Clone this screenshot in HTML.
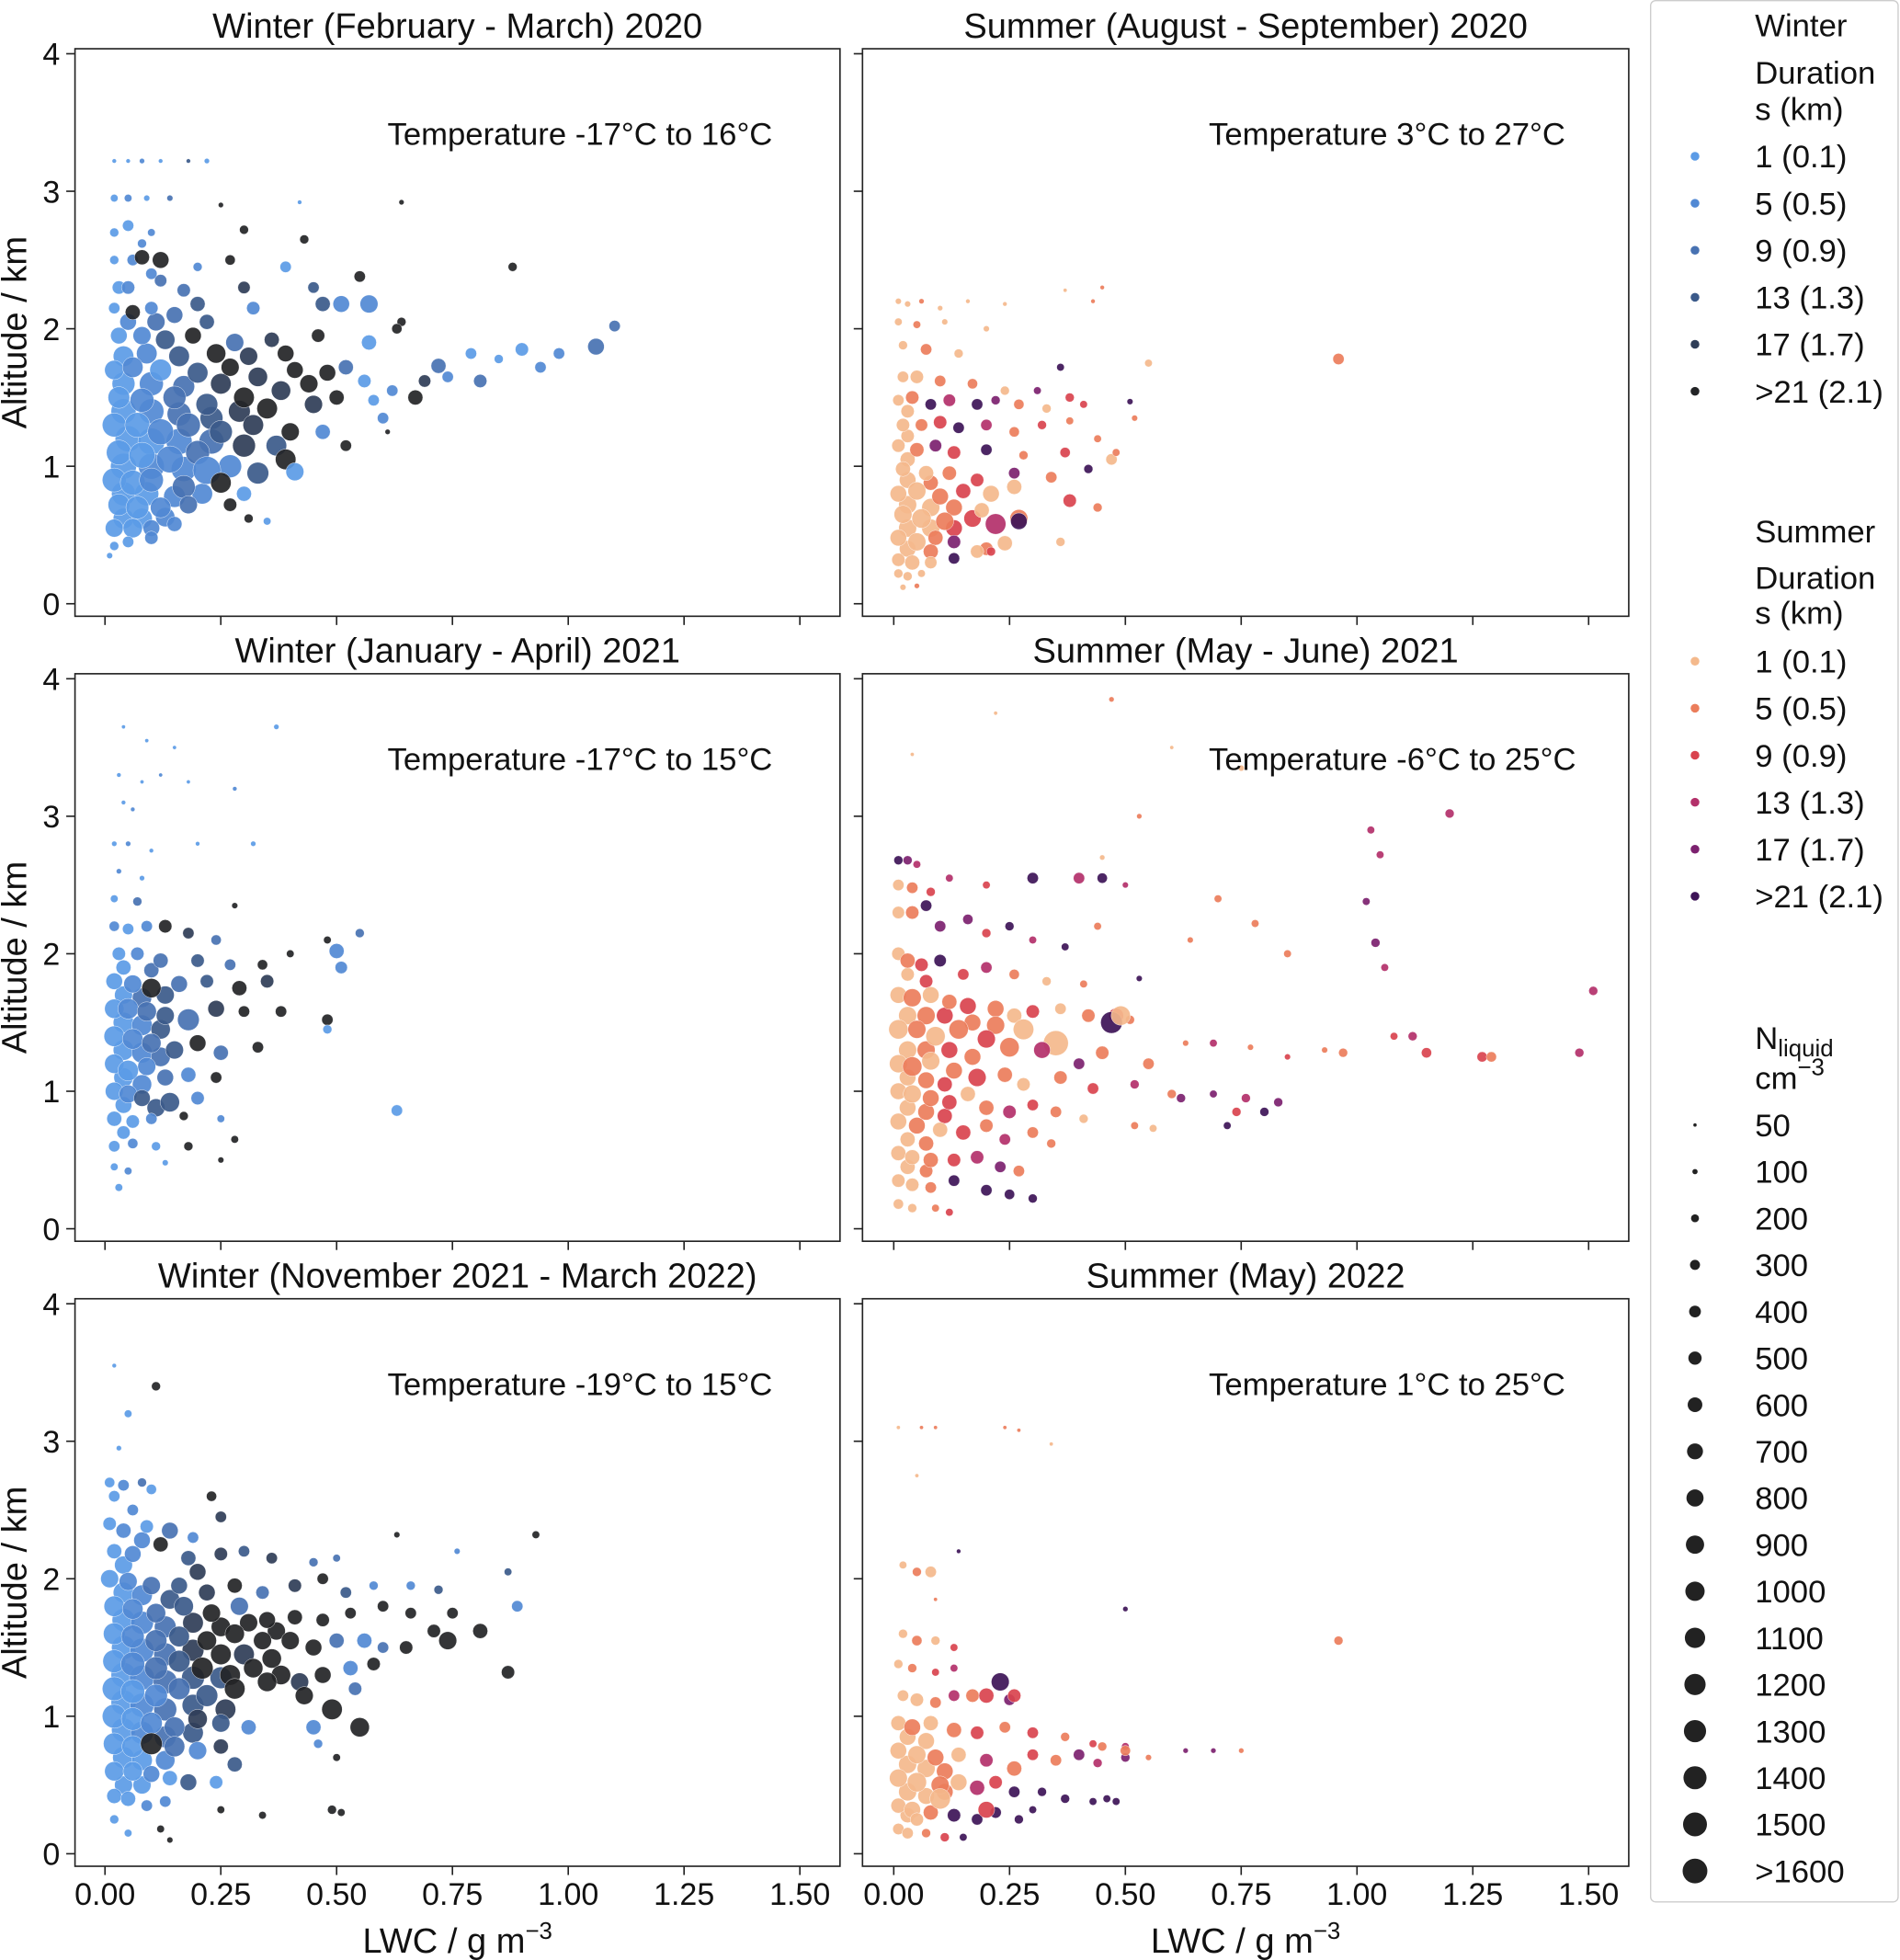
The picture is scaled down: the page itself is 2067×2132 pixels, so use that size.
<!DOCTYPE html>
<html><head><meta charset="utf-8">
<style>
html,body{margin:0;padding:0;background:#fff;}
svg{display:block;font-family:"Liberation Sans",Arial,sans-serif;}
</style></head>
<body>
<svg id="fig" width="2067" height="2132" viewBox="0 0 1520 1568" preserveAspectRatio="none" xmlns="http://www.w3.org/2000/svg"></svg>
<script>
// ---- data: [LWC g/m3, altitude km, N_liquid cm-3, duration class index] ----
const winter2020 = [[0.02,3.22,60,0],[0.05,3.22,60,0],[0.08,3.22,80,1],[0.12,3.22,60,0],[0.18,3.22,60,3],[0.22,3.22,80,0],
[0.02,2.95,150,0],[0.05,2.95,150,1],[0.09,2.95,100,0],[0.14,2.95,100,2],[0.25,2.9,80,5],[0.42,2.92,60,0],[0.64,2.92,80,5],
[0.05,2.75,300,0],[0.1,2.7,150,1],[0.3,2.72,200,5],[0.43,2.65,200,5],
[0.02,2.5,200,0],[0.06,2.5,300,1],[0.08,2.52,500,5],[0.12,2.5,600,5],[0.2,2.45,200,1],[0.27,2.5,250,5],[0.39,2.45,300,0],[0.88,2.45,200,5],
[0.05,2.3,400,1],[0.12,2.35,350,2],[0.17,2.28,400,2],[0.3,2.3,350,4],[0.45,2.3,300,3],[0.55,2.38,300,5],
[0.02,2.15,300,0],[0.06,2.12,500,5],[0.1,2.15,400,1],[0.15,2.1,600,2],[0.2,2.18,500,3],[0.32,2.15,400,1],[0.47,2.18,500,3],[0.51,2.18,600,1],[0.57,2.18,700,1],[0.64,2.05,200,5],
[0.03,1.95,600,0],[0.08,1.95,700,1],[0.13,1.92,800,3],[0.19,1.95,600,5],[0.28,1.9,700,2],[0.36,1.92,500,4],[0.46,1.95,400,5],[0.57,1.9,500,0],[0.63,2.0,250,5],[0.79,1.82,300,0],[0.9,1.85,400,0],[0.98,1.82,300,1],[1.1,2.02,300,2],[1.06,1.87,600,2],[0.94,1.72,300,1],[0.85,1.78,200,0],[0.72,1.73,500,2],[0.81,1.62,400,2],
[0.02,1.7,800,0],[0.06,1.72,900,1],[0.12,1.7,1000,0],[0.2,1.68,900,3],[0.27,1.72,700,5],[0.33,1.65,800,4],[0.41,1.7,600,5],[0.48,1.68,600,5],[0.52,1.72,500,2],[0.56,1.62,400,0],[0.62,1.55,300,1],[0.67,1.5,500,5],[0.69,1.62,350,4],[0.74,1.65,300,1],
[0.03,1.5,1000,0],[0.08,1.48,1200,1],[0.15,1.5,1100,2],[0.22,1.45,1000,3],[0.3,1.5,900,5],[0.38,1.55,800,4],[0.45,1.45,700,4],[0.5,1.5,500,5],[0.58,1.48,300,0],[0.6,1.35,300,1],
[0.02,1.3,1200,0],[0.07,1.3,1300,0],[0.12,1.25,1400,1],[0.18,1.3,1200,2],[0.25,1.25,1100,3],[0.32,1.3,900,4],[0.4,1.25,700,5],[0.47,1.25,500,1],[0.52,1.15,300,5],[0.61,1.25,80,5],
[0.03,1.1,1300,0],[0.08,1.08,1400,0],[0.14,1.05,1500,1],[0.2,1.1,1200,2],[0.27,1.0,1100,1],[0.33,0.95,1000,3],[0.39,1.05,900,5],[0.41,0.96,700,0],[0.22,0.97,1600,1],
[0.02,0.9,1200,0],[0.06,0.88,1300,0],[0.1,0.9,1200,1],[0.17,0.85,1100,2],[0.25,0.88,900,5],[0.3,0.8,500,0],
[0.03,0.72,1000,0],[0.07,0.7,1100,0],[0.12,0.7,900,1],[0.18,0.72,700,2],[0.27,0.72,400,5],
[0.02,0.55,700,0],[0.06,0.55,800,0],[0.1,0.55,600,1],[0.15,0.58,500,1],[0.31,0.62,200,5],[0.35,0.6,150,0],
[0.02,0.42,200,0],[0.05,0.45,300,0],[0.1,0.48,400,1],[0.01,0.35,100,0]];
const winter2020b = [[0.04,1.6,1100,0],[0.1,1.6,1200,1],[0.17,1.58,1000,2],[0.25,1.6,900,4],[0.35,1.42,900,5],[0.04,1.4,1300,0],[0.1,1.4,1300,1],[0.16,1.38,1200,2],[0.23,1.35,1100,3],[0.29,1.4,1000,4],[0.05,1.2,1400,0],[0.1,1.18,1500,0],[0.16,1.18,1400,1],[0.23,1.18,1300,2],[0.3,1.15,1100,4],[0.37,1.15,900,3],[0.04,1.0,1400,0],[0.1,1.0,1400,1],[0.17,0.98,1300,1],[0.04,0.8,1200,0],[0.09,0.8,1200,0],[0.15,0.78,1000,1],[0.21,0.8,900,1],[0.04,0.62,900,0],[0.08,0.62,900,0],[0.13,0.63,800,1],[0.04,1.8,900,0],[0.09,1.82,900,1],[0.16,1.8,900,3],[0.24,1.82,800,5],[0.31,1.8,700,4],[0.39,1.82,600,5],[0.44,1.6,700,5],[0.05,2.05,600,1],[0.11,2.05,700,2],[0.22,2.05,500,3],[0.03,2.3,400,0],[0.1,2.4,300,1],[0.02,2.7,200,0],[0.08,2.62,200,1]];

const summer2020 = [[0.01,2.2,100,0],[0.03,2.18,100,0],[0.06,2.2,80,1],[0.1,2.15,80,0],[0.16,2.2,60,0],[0.24,2.18,60,0],[0.43,2.2,60,1],[0.45,2.3,60,1],[0.37,2.28,50,0],
[0.01,2.05,150,0],[0.05,2.03,150,1],[0.11,2.05,100,0],[0.2,2.0,100,0],
[0.02,1.88,200,0],[0.07,1.85,300,1],[0.14,1.82,200,0],[0.36,1.72,150,5],[0.55,1.75,150,0],[0.96,1.78,300,1],
[0.02,1.65,300,0],[0.05,1.65,400,0],[0.1,1.62,300,1],[0.17,1.6,250,1],[0.24,1.55,200,0],[0.31,1.55,150,4],[0.38,1.5,200,2],
[0.01,1.48,300,0],[0.04,1.5,400,1],[0.08,1.45,300,5],[0.12,1.48,350,3],[0.18,1.45,300,5],[0.22,1.48,200,4],[0.27,1.45,250,1],[0.33,1.42,200,0],[0.41,1.45,150,2],[0.51,1.47,100,5],
[0.02,1.3,400,0],[0.06,1.3,350,1],[0.1,1.32,400,2],[0.14,1.28,300,5],[0.2,1.3,300,3],[0.26,1.25,250,1],[0.32,1.3,200,2],[0.38,1.33,150,1],[0.44,1.2,150,1],[0.52,1.35,100,1],
[0.01,1.15,400,0],[0.05,1.12,450,1],[0.09,1.15,350,4],[0.13,1.1,400,2],[0.2,1.12,300,5],[0.28,1.08,200,1],[0.37,1.1,250,2],[0.47,1.05,300,0],[0.48,1.1,150,1],
[0.02,0.98,500,0],[0.07,0.95,500,0],[0.12,0.95,450,1],[0.18,0.9,400,2],[0.26,0.95,300,4],[0.34,0.92,300,1],[0.42,0.98,200,5],
[0.01,0.8,600,0],[0.05,0.82,700,0],[0.1,0.78,600,1],[0.15,0.82,500,2],[0.21,0.8,600,0],[0.26,0.85,500,0],[0.38,0.75,400,2],[0.44,0.7,200,1],
[0.02,0.65,700,0],[0.06,0.62,800,0],[0.11,0.6,700,1],[0.17,0.62,650,2],[0.22,0.58,900,3],[0.27,0.62,700,1],[0.27,0.6,600,5],[0.19,0.68,500,0],
[0.01,0.48,600,0],[0.05,0.45,700,0],[0.09,0.48,500,1],[0.13,0.45,400,4],[0.2,0.4,400,1],[0.24,0.44,500,0],[0.36,0.45,200,0],
[0.01,0.32,400,0],[0.04,0.3,500,0],[0.08,0.3,350,0],[0.13,0.33,300,5],[0.18,0.38,400,0],[0.21,0.38,200,2],
[0.01,0.22,200,0],[0.03,0.2,200,0],[0.06,0.22,150,0],[0.02,0.12,100,0],[0.05,0.13,80,1]];
const summer2020b = [[0.03,0.72,700,0],[0.08,0.7,700,0],[0.13,0.7,600,1],[0.03,0.55,700,0],[0.08,0.55,700,0],[0.13,0.55,600,2],[0.03,0.4,600,0],[0.08,0.38,500,1],[0.03,0.9,600,0],[0.08,0.88,500,1],[0.03,1.05,500,0],[0.03,1.22,400,0],[0.03,1.4,400,0]];

const winter2021 = [[0.04,3.65,50,0],[0.09,3.55,50,0],[0.15,3.5,50,0],[0.37,3.65,80,0],[0.03,3.3,60,0],[0.08,3.25,50,0],[0.12,3.3,50,1],[0.18,3.25,50,0],[0.28,3.2,60,1],[0.04,3.1,60,0],[0.06,3.05,60,1],
[0.02,2.8,80,0],[0.05,2.8,80,1],[0.1,2.75,60,0],[0.2,2.8,60,0],[0.32,2.8,80,0],[0.03,2.6,80,1],[0.08,2.55,80,0],
[0.02,2.4,150,0],[0.07,2.38,200,2],[0.28,2.35,100,5],
[0.02,2.2,250,1],[0.05,2.18,300,0],[0.09,2.2,300,1],[0.13,2.2,400,5],[0.18,2.15,300,4],[0.24,2.1,250,2],[0.48,2.1,150,5],[0.55,2.15,200,2],
[0.03,2.0,400,0],[0.07,2.0,400,1],[0.12,1.95,500,2],[0.2,1.95,400,3],[0.27,1.92,300,2],[0.34,1.92,250,5],[0.4,2.0,150,5],[0.5,2.02,500,1],[0.51,1.9,350,1],
[0.02,1.8,600,0],[0.06,1.78,700,1],[0.1,1.75,800,5],[0.16,1.78,600,2],[0.22,1.8,400,3],[0.29,1.75,500,5],[0.35,1.8,400,4],
[0.02,1.6,800,0],[0.05,1.6,900,1],[0.09,1.58,800,2],[0.13,1.55,700,3],[0.18,1.52,1000,2],[0.24,1.6,600,4],[0.3,1.58,300,5],[0.38,1.58,300,5],[0.48,1.52,300,5],[0.48,1.45,200,0],
[0.02,1.4,900,0],[0.06,1.38,900,1],[0.1,1.35,800,2],[0.15,1.3,700,3],[0.2,1.35,600,5],[0.25,1.28,500,2],[0.33,1.32,300,5],
[0.02,1.2,800,0],[0.05,1.15,900,0],[0.09,1.18,700,1],[0.13,1.1,600,2],[0.18,1.12,500,1],[0.24,1.1,300,5],
[0.02,1.0,700,0],[0.05,0.98,700,1],[0.08,0.95,600,3],[0.14,0.92,800,3],[0.2,0.95,400,1],[0.63,0.86,300,0],
[0.02,0.8,500,0],[0.06,0.78,400,0],[0.1,0.8,300,1],[0.17,0.82,200,5],[0.25,0.8,150,1],
[0.02,0.6,300,0],[0.06,0.62,250,1],[0.11,0.6,200,0],[0.18,0.6,200,5],[0.28,0.65,150,5],
[0.02,0.45,150,0],[0.05,0.42,150,1],[0.13,0.48,100,0],[0.25,0.5,100,5],[0.03,0.3,150,0]];
const winter2021b = [[0.04,1.5,900,0],[0.08,1.48,900,1],[0.12,1.45,800,3],[0.04,1.3,900,0],[0.08,1.28,900,1],[0.12,1.25,800,2],[0.04,1.1,800,0],[0.08,1.05,800,1],[0.11,0.88,700,3],[0.04,1.7,700,0],[0.08,1.68,800,2],[0.13,1.7,700,3],[0.04,1.9,500,0],[0.1,1.88,500,2],[0.04,0.9,600,0],[0.04,0.7,400,0]];

const summer2021 = [[0.47,3.85,80,1],[0.75,3.35,100,0],[0.04,3.45,50,0],[0.22,3.75,50,0],[0.6,3.5,50,0],[0.53,3.0,80,1],[0.45,2.7,80,0],
[1.2,3.02,200,3],[1.03,2.9,150,3],[1.05,2.72,150,3],[1.02,2.38,150,4],[1.04,2.08,200,4],[1.06,1.9,150,3],[1.51,1.73,200,3],
[0.01,2.68,200,5],[0.03,2.68,200,4],[0.05,2.65,150,3],[0.01,2.5,300,0],[0.04,2.48,300,1],[0.08,2.45,200,2],[0.12,2.55,150,3],[0.2,2.5,150,2],[0.3,2.55,300,5],[0.4,2.55,300,3],[0.45,2.55,250,5],[0.5,2.5,100,3],[0.7,2.4,150,1],[0.78,2.22,150,1],[0.85,2.0,150,1],[0.64,2.1,100,1],
[0.01,2.3,350,0],[0.04,2.3,400,1],[0.07,2.35,300,5],[0.1,2.2,300,4],[0.16,2.25,250,4],[0.2,2.15,200,2],[0.25,2.2,200,5],[0.3,2.1,150,3],[0.37,2.05,150,5],[0.44,2.2,150,1],
[0.01,2.0,400,0],[0.03,1.95,500,1],[0.06,1.92,400,2],[0.1,1.95,350,5],[0.15,1.85,300,2],[0.2,1.9,300,3],[0.26,1.85,250,1],[0.33,1.8,200,0],[0.41,1.78,150,1],[0.53,1.82,100,5],
[0.01,1.7,600,0],[0.04,1.68,700,1],[0.08,1.7,600,0],[0.12,1.65,500,1],[0.16,1.62,600,2],[0.22,1.6,600,1],[0.26,1.55,500,0],[0.3,1.58,400,2],[0.36,1.6,300,0],[0.42,1.55,400,1],[0.48,1.55,500,2],[0.51,1.52,200,1],[0.63,1.35,100,1],[0.69,1.35,150,3],[0.77,1.32,100,1],[0.85,1.25,100,2],[0.93,1.3,100,1],[0.97,1.28,200,1],[1.08,1.4,150,2],[1.12,1.4,200,3],[1.15,1.28,250,2],[1.27,1.25,250,2],[1.29,1.25,250,1],[1.48,1.28,200,3],
[0.47,1.5,1000,5],[0.49,1.55,800,0],[0.35,1.35,1300,0],[0.22,1.48,700,1],[0.28,1.45,900,0],
[0.01,1.45,800,0],[0.05,1.45,700,1],[0.09,1.4,800,0],[0.14,1.45,800,1],[0.2,1.38,700,2],[0.25,1.32,800,1],[0.32,1.3,600,3],[0.4,1.2,300,4],[0.45,1.28,400,1],[0.55,1.2,300,1],
[0.01,1.2,700,0],[0.04,1.18,800,1],[0.08,1.22,700,0],[0.13,1.15,600,1],[0.18,1.1,700,2],[0.24,1.12,500,1],[0.28,1.05,400,0],[0.36,1.1,400,1],[0.43,1.02,300,2],[0.52,1.05,200,3],[0.6,0.98,200,1],[0.62,0.95,200,4],[0.69,0.98,150,4],[0.74,0.85,200,2],[0.8,0.85,200,5],[0.76,0.95,200,3],[0.83,0.92,200,4],[0.72,0.75,150,5],
[0.01,1.0,600,0],[0.04,0.98,700,0],[0.08,0.95,600,1],[0.12,0.92,500,2],[0.16,0.98,500,0],[0.2,0.88,500,1],[0.25,0.85,400,3],[0.3,0.9,300,2],[0.35,0.85,300,1],[0.41,0.8,200,0],[0.52,0.75,150,1],[0.56,0.73,150,0],
[0.01,0.78,600,0],[0.05,0.75,600,1],[0.1,0.72,500,0],[0.15,0.7,500,2],[0.2,0.75,400,1],[0.24,0.65,300,3],[0.3,0.7,300,1],[0.34,0.62,200,1],
[0.01,0.55,500,0],[0.04,0.52,500,0],[0.08,0.5,500,1],[0.13,0.5,400,2],[0.18,0.52,400,3],[0.23,0.45,300,4],[0.27,0.42,300,1],
[0.01,0.35,400,0],[0.04,0.32,400,0],[0.08,0.3,300,1],[0.13,0.35,300,5],[0.2,0.28,300,5],[0.25,0.25,250,5],[0.3,0.22,200,5],
[0.01,0.18,250,0],[0.04,0.15,200,0],[0.09,0.15,150,1],[0.12,0.12,150,2]];
const summer2021b = [[0.03,1.55,700,0],[0.07,1.55,700,1],[0.11,1.55,600,2],[0.17,1.5,600,1],[0.03,1.3,700,0],[0.07,1.3,700,1],[0.12,1.3,600,2],[0.17,1.25,600,1],[0.03,1.1,600,0],[0.07,1.08,600,1],[0.11,1.05,500,2],[0.03,0.88,600,0],[0.07,0.85,600,1],[0.11,0.82,500,2],[0.03,0.65,500,0],[0.07,0.62,500,1],[0.03,0.45,500,0],[0.07,0.42,400,1],[0.03,1.85,400,0],[0.07,1.8,400,2]];

const winter2022 = [[0.02,3.55,60,0],[0.11,3.4,200,5],[0.05,3.2,150,0],[0.03,2.95,80,0],
[0.01,2.7,250,0],[0.04,2.68,300,1],[0.08,2.7,200,2],[0.1,2.65,250,0],[0.02,2.6,300,0],[0.06,2.5,300,1],[0.23,2.6,250,5],[0.25,2.45,300,4],
[0.01,2.4,400,0],[0.04,2.35,500,1],[0.09,2.38,400,0],[0.14,2.35,600,2],[0.19,2.3,300,1],[0.63,2.32,100,5],[0.93,2.32,150,5],[0.76,2.2,100,1],
[0.02,2.2,500,0],[0.06,2.18,600,1],[0.12,2.25,500,5],[0.18,2.15,500,3],[0.25,2.18,400,4],[0.3,2.2,300,3],[0.36,2.15,300,4],[0.45,2.12,200,2],[0.5,2.15,150,2],
[0.01,2.0,700,0],[0.05,1.98,700,1],[0.1,1.95,700,2],[0.16,1.95,600,3],[0.22,1.9,600,4],[0.28,1.95,500,5],[0.34,1.9,400,2],[0.41,1.95,400,4],[0.47,2.0,300,5],[0.52,1.9,300,3],[0.58,1.95,200,1],[0.66,1.95,200,1],[0.72,1.92,200,3],[0.87,2.05,150,3],
[0.02,1.8,900,0],[0.06,1.78,900,1],[0.11,1.75,800,2],[0.17,1.8,800,3],[0.23,1.75,700,5],[0.29,1.8,700,2],[0.35,1.7,600,5],[0.41,1.72,500,5],[0.47,1.7,400,5],[0.53,1.75,300,5],[0.6,1.8,300,5],[0.66,1.75,300,5],[0.71,1.62,400,5],[0.75,1.75,300,5],[0.81,1.62,500,5],[0.89,1.8,300,1],[0.56,1.55,500,1],[0.6,1.5,300,2],[0.65,1.5,400,5],
[0.02,1.6,1000,0],[0.06,1.58,1100,1],[0.11,1.55,1000,2],[0.16,1.58,900,3],[0.22,1.55,800,5],[0.28,1.6,800,5],[0.34,1.55,700,5],[0.4,1.55,700,5],[0.45,1.5,600,5],[0.5,1.55,500,2],[0.74,1.55,700,5],
[0.02,1.4,1100,0],[0.06,1.38,1200,1],[0.11,1.35,1100,2],[0.16,1.4,1000,3],[0.21,1.35,1000,5],[0.27,1.3,900,5],[0.32,1.35,800,5],[0.38,1.3,800,5],[0.42,1.25,700,4],[0.47,1.3,600,5],[0.53,1.35,500,1],[0.58,1.38,400,5],[0.87,1.32,400,5],
[0.02,1.2,1200,0],[0.06,1.18,1200,0],[0.11,1.15,1100,1],[0.16,1.2,1000,2],[0.22,1.15,1000,3],[0.28,1.2,900,5],[0.35,1.25,800,5],[0.43,1.15,700,5],[0.49,1.05,900,5],[0.54,1.2,400,2],[0.55,0.92,800,5],
[0.02,1.0,1200,0],[0.06,0.98,1100,0],[0.1,0.95,1000,1],[0.15,0.92,900,2],[0.2,0.98,800,4],[0.25,0.95,700,3],[0.31,0.92,500,1],[0.45,0.92,500,1],[0.46,0.8,200,1],
[0.02,0.8,1000,0],[0.06,0.78,1000,0],[0.1,0.8,1000,5],[0.15,0.78,900,2],[0.2,0.75,700,1],[0.25,0.78,500,4],[0.28,0.65,500,3],[0.5,0.7,150,5],
[0.02,0.6,800,0],[0.06,0.6,800,0],[0.1,0.58,600,1],[0.14,0.55,500,0],[0.18,0.52,600,3],[0.24,0.52,400,0],
[0.02,0.42,500,0],[0.05,0.4,500,0],[0.09,0.35,300,1],[0.13,0.38,300,1],[0.25,0.32,150,5],[0.34,0.28,150,5],[0.49,0.32,200,5],[0.51,0.3,150,5],[0.02,0.25,200,0],[0.05,0.15,150,0],[0.12,0.18,150,5],[0.14,0.1,100,5]];
const winter2022b = [[0.04,1.7,1100,0],[0.08,1.68,1100,1],[0.13,1.65,1000,2],[0.19,1.68,900,4],[0.25,1.65,800,5],[0.31,1.68,700,5],[0.37,1.62,700,5],[0.04,1.5,1200,0],[0.08,1.48,1200,1],[0.13,1.45,1100,2],[0.19,1.48,1000,4],[0.25,1.45,900,5],[0.3,1.45,900,4],[0.36,1.42,800,5],[0.04,1.3,1300,0],[0.08,1.28,1300,1],[0.13,1.25,1200,2],[0.19,1.28,1100,3],[0.25,1.28,1000,3],[0.04,1.1,1300,0],[0.08,1.08,1200,1],[0.13,1.05,1100,2],[0.19,1.08,1000,3],[0.26,1.05,900,4],[0.04,0.9,1200,0],[0.08,0.88,1100,1],[0.13,0.85,1000,2],[0.19,0.88,900,3],[0.04,0.7,1000,0],[0.08,0.68,900,0],[0.13,0.68,800,1],[0.04,0.5,700,0],[0.08,0.5,700,0],[0.04,1.9,900,0],[0.08,1.88,900,1],[0.14,1.85,800,3],[0.2,2.05,600,4],[0.04,2.1,700,0],[0.08,2.28,600,1]];

const summer2022 = [[0.01,3.1,50,0],[0.06,3.1,50,1],[0.09,3.1,50,1],[0.24,3.1,50,1],[0.27,3.08,50,1],[0.34,2.98,50,0],[0.05,2.75,50,0],
[0.02,2.1,150,0],[0.05,2.05,200,1],[0.08,2.05,300,0],[0.14,2.2,60,5],[0.09,1.85,50,1],
[0.02,1.6,200,0],[0.05,1.55,250,1],[0.09,1.55,200,0],[0.13,1.5,150,2],[0.5,1.78,80,5],[0.96,1.55,200,1],
[0.01,1.38,200,0],[0.04,1.35,200,1],[0.09,1.32,150,2],[0.13,1.35,150,3],
[0.02,1.15,300,0],[0.05,1.12,400,0],[0.09,1.1,300,1],[0.13,1.15,300,3],[0.17,1.15,400,1],[0.2,1.15,500,2],[0.23,1.25,700,5],[0.25,1.12,300,4],[0.26,1.15,400,2],
[0.01,0.95,500,0],[0.04,0.92,600,1],[0.08,0.95,500,0],[0.13,0.9,500,1],[0.18,0.88,400,2],[0.24,0.92,300,1],[0.3,0.88,300,2],[0.37,0.85,200,1],[0.43,0.8,150,2],[0.45,0.78,200,1],[0.5,0.78,150,3],[0.55,0.7,100,1],[0.63,0.75,80,4],[0.69,0.75,80,4],[0.75,0.75,80,1],
[0.01,0.75,600,0],[0.05,0.72,700,0],[0.09,0.7,600,1],[0.14,0.72,500,0],[0.2,0.68,400,3],[0.26,0.62,500,1],[0.3,0.72,300,2],[0.35,0.68,300,1],[0.4,0.72,300,4],[0.44,0.66,200,3],[0.5,0.7,200,4],[0.5,0.75,250,1],
[0.01,0.55,700,0],[0.05,0.52,800,0],[0.1,0.5,700,1],[0.14,0.52,600,0],[0.18,0.48,500,3],[0.22,0.52,400,2],[0.26,0.45,300,5],[0.32,0.45,200,5],[0.37,0.4,200,5],[0.43,0.38,150,5],
[0.01,0.35,500,0],[0.04,0.32,600,0],[0.08,0.3,500,1],[0.13,0.28,400,5],[0.18,0.25,300,5],[0.22,0.3,300,5],[0.27,0.25,200,5],[0.46,0.4,150,5],[0.48,0.38,150,5],[0.3,0.32,150,5],
[0.01,0.18,300,0],[0.03,0.15,300,0],[0.07,0.15,200,1],[0.11,0.12,200,2],[0.15,0.12,150,5],[0.05,0.25,400,0],[0.1,0.4,900,0],[0.2,0.32,600,2]];
const summer2022b = [[0.03,0.65,700,0],[0.07,0.62,700,0],[0.11,0.6,600,1],[0.03,0.45,700,0],[0.07,0.42,600,0],[0.11,0.45,600,1],[0.03,0.85,600,0],[0.07,0.82,600,0],[0.03,0.28,500,0]];

const panelTitles = ["Winter (February - March) 2020","Summer (August - September) 2020","Winter (January - April) 2021","Summer (May - June) 2021","Winter (November 2021 - March 2022)","Summer (May) 2022"];
const tempLabels = ["Temperature -17°C to 16°C","Temperature 3°C to 27°C","Temperature -17°C to 15°C","Temperature -6°C to 25°C","Temperature -19°C to 15°C","Temperature 1°C to 25°C"];
const xTicks = [0,0.25,0.5,0.75,1.0,1.25,1.5];
const xTickLabels = ["0.00","0.25","0.50","0.75","1.00","1.25","1.50"];
const yTicks = [0,1,2,3,4];
const durationLabels = ["1 (0.1)","5 (0.5)","9 (0.9)","13 (1.3)","17 (1.7)",">21 (2.1)"];
const sizeLegendValues = [50,100,200,300,400,500,600,700,800,900,1000,1100,1200,1300,1400,1500,1600];
const sizeLegendLabels = ["50","100","200","300","400","500","600","700","800","900","1000","1100","1200","1300","1400","1500",">1600"];

const winterColors = ["#5b9be6","#5189d4","#4872b2","#3b5a8a","#2f3d57","#232426"];
const summerColors = ["#f4b98c","#eb7d5b","#d9434e","#b3306a","#7c216f","#3d1357"];

const NS="http://www.w3.org/2000/svg";
const svg=document.getElementById('fig');
function mk(tag,attrs,parent){const e=document.createElementNS(NS,tag);for(const k in attrs)e.setAttribute(k,attrs[k]);(parent||svg).appendChild(e);return e;}
function rad(n){return Math.max(0.6, 0.26*Math.sqrt(n)-0.5);}
function prad(n){return Math.max(0.6, 0.29*Math.sqrt(n)-0.5);}

const panels=[
 {data:winter2020,extra:winter2020b,col:0,row:0,pal:winterColors},
 {data:summer2020,extra:summer2020b,col:1,row:0,pal:summerColors},
 {data:winter2021,extra:winter2021b,col:0,row:1,pal:winterColors},
 {data:summer2021,extra:summer2021b,col:1,row:1,pal:summerColors},
 {data:winter2022,extra:winter2022b,col:0,row:2,pal:winterColors},
 {data:summer2022,extra:summer2022b,col:1,row:2,pal:summerColors}];
const colX=[[60,672,84],[690,1303,715]];
const rowY=[39,539,1039];
const PXU=370.6, PYU=110;

panels.forEach((p,i)=>{
  const [L,R,x0]=colX[p.col];
  const T=rowY[p.row], B=T+454, y0=T+444;
  const xs=v=>x0+v*PXU, ys=v=>y0-v*PYU;
  const g=mk('g',{});
  
  
  const t=mk('text',{x:(L+R)/2,y:T-9,'text-anchor':'middle','font-size':28,fill:'#111'},g);
  t.textContent=panelTitles[i];
  
  
  const pg=mk('g',{},g);
  
  
  const all=p.extra.concat(p.data);
  all.forEach(d=>{
    const c=mk('circle',{cx:xs(d[0]).toFixed(1),cy:ys(d[1]).toFixed(1),r:prad(d[2]).toFixed(2),fill:p.pal[d[3]],'fill-opacity':0.92,stroke:'#fff','stroke-width':0.3},pg);
    
    
  });
  const fr=mk('rect',{x:L,y:T,width:R-L,height:B-T,fill:'none',stroke:'#222','stroke-width':1.2},g);
  
  
  const tl=mk('text',{x:p.col?967:310,y:T+77,'font-size':25.5,fill:'#111'},g);
  tl.textContent=tempLabels[i];
  
  
  xTicks.forEach((v,k)=>{
    mk('line',{x1:xs(v),x2:xs(v),y1:B,y2:B+7,stroke:'#222','stroke-width':1.2},g);
    if(p.row===2){
      const tx=mk('text',{x:xs(v),y:B+31,'text-anchor':'middle','font-size':25,fill:'#111'},g);
      tx.textContent=xTickLabels[k];
      
      
    }
  });
  yTicks.forEach(v=>{
    mk('line',{x1:L,x2:L-7,y1:ys(v),y2:ys(v),stroke:'#222','stroke-width':1.2},g);
    if(p.col===0){
      const ty=mk('text',{x:L-12,y:ys(v)+9,'text-anchor':'end','font-size':25,fill:'#111'},g);
      ty.textContent=String(v);
      
      
    }
  });
  if(p.col===0){
    const ya=mk('text',{x:0,y:0,transform:`translate(21,${T+227}) rotate(-90)`,'text-anchor':'middle','font-size':28,fill:'#111'},g);
    ya.textContent='Altitude / km';
    
    
  }
  if(p.row===2){
    const xa=mk('text',{x:(L+R)/2,y:1562,'text-anchor':'middle','font-size':28,fill:'#111'},g);
    xa.innerHTML='LWC / g m<tspan dy="-11" font-size="19">−3</tspan>';
    
    
  }
});

// legend
const lg=mk('g',{});


mk('rect',{x:1320.5,y:0.5,width:198,height:1521,rx:4,fill:'#fff',stroke:'#ccc','stroke-width':1},lg);
function ltext(txt,y,name){const e=mk('text',{x:1404,y:y+9,'font-size':25.5,fill:'#111'},lg);e.textContent=txt;return e;}
ltext('Winter',20,'legend-title-winter');ltext('Duration',58,'legend-subtitle');ltext('s (km)',87,'legend-subtitle');
durationLabels.forEach((s,k)=>{const y=125+k*37.6;
  const c=mk('circle',{cx:1356,cy:y,r:3.5,fill:winterColors[k]},lg);
  
  ltext(s,y,'legend-entry');});
ltext('Summer',425,'legend-title-summer');ltext('Duration',462,'legend-subtitle');ltext('s (km)',490,'legend-subtitle');
durationLabels.forEach((s,k)=>{const y=529+k*37.6;
  const c=mk('circle',{cx:1356,cy:y,r:3.5,fill:summerColors[k]},lg);
  
  ltext(s,y,'legend-entry');});
const nt=ltext('',830,'legend-title-n');nt.innerHTML='N<tspan dy="6" font-size="19">liquid</tspan>';
const ct=ltext('',862,'legend-unit');ct.innerHTML='cm<tspan dy="-11" font-size="19">−3</tspan>';
sizeLegendValues.forEach((v,k)=>{const y=900+k*37.3;
  const c=mk('circle',{cx:1356,cy:y,r:rad(v),fill:'#222'},lg);
  
  ltext(sizeLegendLabels[k],y,'legend-size-entry');});
</script>
</body></html>
